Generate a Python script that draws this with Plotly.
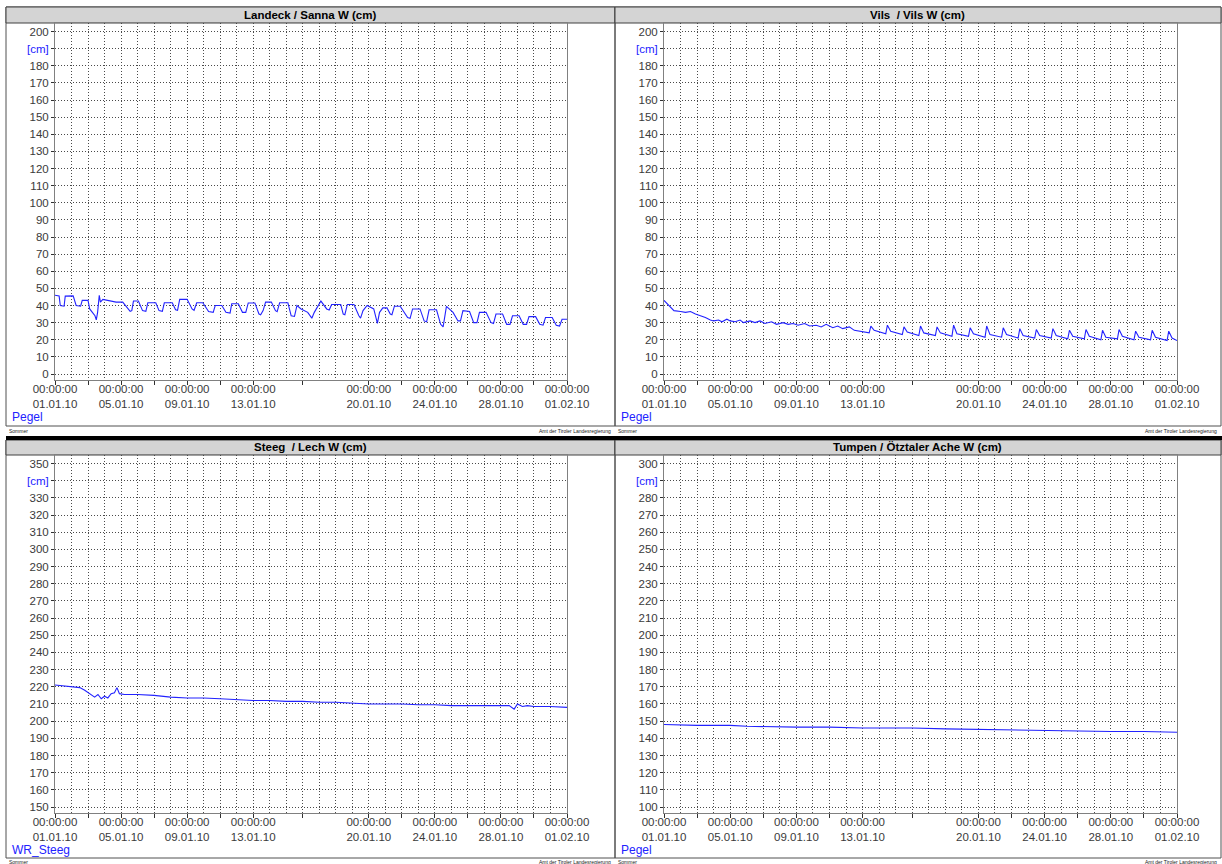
import plotly.graph_objects as go

# ---------------------------------------------------------------------------
# Gauge readings, January 2010 (time in days since 01.01.10 00:00, level in cm)
# ---------------------------------------------------------------------------
sanna_t = [0.00, 0.25, 0.32, 0.55, 0.62, 1.10, 1.28, 1.55, 1.65, 2.00, 2.10, 2.30, 2.42, 2.50,
           2.58, 2.68, 2.75, 2.90, 3.30, 3.70, 4.10, 4.40, 4.55, 4.65, 4.75, 5.05, 5.30, 5.50,
           5.62, 6.10, 6.30, 6.50, 6.62, 7.10, 7.30, 7.42, 7.55, 8.00, 8.30, 8.42, 8.58, 8.95,
           9.30, 9.58, 9.70, 10.10, 10.35, 10.60, 10.70, 11.10, 11.35, 11.55, 11.70, 12.10,
           12.35, 12.45, 12.60, 12.75, 13.10, 13.35, 13.45, 13.60, 14.10, 14.30, 14.50, 14.65,
           14.90, 15.30, 15.55, 15.70, 16.10, 16.45, 16.60, 16.75, 17.30, 17.45, 17.55, 17.70,
           18.10, 18.40, 18.50, 18.65, 18.90, 19.30, 19.45, 19.52, 19.65, 19.85, 20.10, 20.30,
           20.40, 20.55, 20.90, 21.35, 21.50, 21.65, 22.10, 22.35, 22.50, 22.65, 23.10, 23.35,
           23.50, 23.60, 23.70, 24.10, 24.40, 24.55, 24.70, 25.10, 25.35, 25.55, 25.70, 26.10,
           26.40, 26.55, 26.70, 27.10, 27.35, 27.55, 27.70, 28.10, 28.35, 28.55, 28.70, 29.10,
           29.35, 29.55, 29.70, 30.10, 30.35, 30.55, 30.70, 31.00]
sanna_w = [46.0, 45.5, 40.0, 39.6, 45.5, 45.6, 40.0, 39.6, 43.0, 43.0, 38.0, 35.5, 34.0, 31.6,
           36.0, 46.0, 42.0, 43.6, 43.0, 42.0, 42.0, 38.0, 36.6, 37.0, 42.6, 42.6, 37.0, 36.6,
           41.6, 41.6, 37.0, 36.6, 41.6, 41.6, 37.5, 37.2, 43.6, 43.6, 38.0, 37.2, 41.6, 41.6,
           36.5, 36.0, 40.0, 40.0, 36.0, 35.6, 41.0, 41.0, 36.0, 36.0, 41.5, 41.5,
           35.0, 34.6, 37.0, 42.0, 42.0, 37.0, 36.4, 41.6, 41.6, 34.0, 33.6, 40.0,
           38.0, 36.0, 32.6, 36.0, 42.6, 38.0, 37.4, 40.6, 40.6, 35.0, 34.6, 40.6,
           40.6, 34.0, 32.6, 37.0, 40.0, 38.0, 31.0, 29.6, 36.0, 38.6, 38.6, 35.0,
           34.6, 39.6, 39.6, 33.0, 32.5, 38.0, 38.0, 31.0, 30.5, 37.5, 37.5, 29.0,
           27.5, 33.0, 39.5, 36.0, 31.0, 31.0, 37.0, 36.5, 30.0, 30.0, 36.0, 36.0,
           30.0, 29.5, 35.0, 35.0, 29.0, 29.0, 34.0, 34.0, 29.0, 29.0, 33.5, 33.5,
           29.0, 28.5, 33.0, 33.0, 28.5, 28.0, 32.0, 32.0]

vils_t = [0.0, 0.2, 0.45, 0.6, 1.0, 1.3, 1.6, 1.9, 2.2, 2.5, 2.8, 3.0, 3.3, 3.5, 3.8, 4.0, 4.3,
          4.6, 4.8, 5.2, 5.5, 5.8, 6.1, 6.5, 6.8, 7.2, 7.5, 7.8, 8.1, 8.5, 8.8, 9.2, 9.5, 9.8,
          10.2, 10.5, 10.8, 11.2, 11.5,
          12.40, 12.50, 12.70, 13.40, 13.50, 13.70, 14.40, 14.50, 14.70, 15.40, 15.50, 15.70,
          16.40, 16.50, 16.70, 17.40, 17.50, 17.70, 18.40, 18.50, 18.70, 19.40, 19.50, 19.70,
          20.40, 20.50, 20.70, 21.40, 21.50, 21.70, 22.40, 22.50, 22.70, 23.40, 23.50, 23.70,
          24.40, 24.50, 24.70, 25.40, 25.50, 25.70, 26.40, 26.50, 26.70, 27.40, 27.50, 27.70,
          28.40, 28.50, 28.70, 29.40, 29.50, 29.70, 30.40, 30.50, 30.70, 31.00]
vils_w = [43.0, 41.0, 38.0, 37.0, 36.5, 36.0, 36.5, 35.0, 34.0, 33.0, 31.5, 31.0, 31.5, 30.5,
          32.0, 31.0, 30.5, 31.5, 30.0, 31.0, 30.0, 31.0, 29.5, 30.5, 29.0, 30.0, 29.0, 29.5,
          28.5, 29.5, 28.0, 28.5, 27.5, 29.0, 27.0, 28.0, 26.5, 27.5, 25.5,
          24.0, 28.0, 25.5, 23.5, 28.5, 25.0, 23.0, 27.5, 24.5, 22.5, 28.0, 24.0,
          22.5, 27.5, 24.0, 22.0, 28.5, 23.5, 22.0, 27.0, 23.5, 21.5, 28.0, 23.0,
          21.5, 27.0, 23.0, 21.0, 26.5, 22.5, 21.0, 26.0, 22.5, 21.0, 26.5, 22.5,
          20.5, 25.5, 22.0, 20.5, 26.0, 22.0, 20.0, 25.5, 21.5, 20.5, 26.0, 22.0,
          20.0, 25.0, 21.5, 20.0, 25.5, 21.5, 19.5, 25.0, 21.0, 19.5]

lech_t = [0.0, 0.5, 1.0, 1.5, 1.8, 2.0, 2.2, 2.4, 2.6, 2.8, 3.0, 3.2, 3.4, 3.6, 3.75, 3.9, 4.2,
          5.0, 6.0, 7.0, 8.0, 9.0, 10.0, 11.0, 12.0, 13.0, 14.0, 15.0, 16.0, 17.0, 18.0, 19.0,
          20.0, 21.0, 22.0, 23.0, 24.0, 25.0, 26.0, 27.0, 27.5, 27.8, 28.0, 28.3, 28.6, 29.0,
          30.0, 31.0]
lech_w = [221.0, 220.5, 220.0, 219.5, 218.0, 216.5, 215.0, 214.0, 215.5, 213.0, 214.5, 213.5,
          216.0, 216.5, 219.5, 216.0, 215.5, 215.5, 215.0, 214.0, 213.5, 213.5, 213.0, 212.5,
          212.0, 212.0, 211.5, 211.5, 211.0, 211.0, 210.5, 210.0, 210.0, 210.0, 209.5, 209.5,
          209.0, 209.0, 209.0, 209.0, 209.0, 207.0, 210.0, 208.5, 209.0, 208.5, 208.5, 208.0]

oetz_t = [0.0, 2.0, 4.0, 5.0, 8.0, 10.0, 12.0, 15.0, 17.0, 20.0, 22.0, 24.0, 27.0, 29.0, 31.0]
oetz_w = [148.0, 147.5, 147.5, 147.0, 146.5, 146.5, 146.0, 146.0, 145.5, 145.0, 145.0, 144.5,
          144.0, 144.0, 143.5]

# x-axis labels (day offsets and their date/time text)
label_days = [0, 4, 8, 12, 19, 23, 27, 31]
label_dates = ["01.01.10", "05.01.10", "09.01.10", "13.01.10",
               "20.01.10", "24.01.10", "28.01.10", "01.02.10"]
mid_days = [2, 6, 10, 15, 21, 25, 29]

# ---------------------------------------------------------------------------
W, H = 1222, 864
FONT = "Liberation Sans, Arial, sans-serif"
BLUE = "#2222ff"
TXT = "#3a3a3a"
GRID = "#4a4a4a"


def fx(p):
    return p / W


def fy(p):
    return 1 - p / H


panels = [
    dict(title="Landeck / Sanna W (cm)", t=sanna_t, w=sanna_w, lo=0, hi=200, tag="Pegel",
         col=0, row=0),
    dict(title="Vils  / Vils W (cm)", t=vils_t, w=vils_w, lo=0, hi=200, tag="Pegel",
         col=1, row=0),
    dict(title="Steeg  / Lech W (cm)", t=lech_t, w=lech_w, lo=150, hi=350, tag="WR_Steeg",
         col=0, row=1),
    dict(title="Tumpen / Ötztaler Ache W (cm)", t=oetz_t, w=oetz_w, lo=100, hi=300, tag="Pegel",
         col=1, row=1),
]

# pixel frame of each column / row
cols = [dict(left=6, right=615, p0=55, p1=567), dict(left=615, right=1221, p0=664, p1=1177)]
rows = [dict(band0=7, band1=23, p1=380, tag=417, bottom=426, foot=431),
        dict(band0=440, band1=455, p1=813, tag=850, bottom=858, foot=862)]

fig = go.Figure()
shapes = []
annotations = []
layout_axes = {}

for i, pn in enumerate(panels):
    c = cols[pn["col"]]
    r = rows[pn["row"]]
    n = "" if i == 0 else str(i + 1)
    xa, ya = "x" + n, "y" + n

    fig.add_trace(go.Scatter(x=pn["t"], y=pn["w"], mode="lines", xaxis=xa, yaxis=ya,
                             line=dict(color=BLUE, width=1.1), showlegend=False,
                             hoverinfo="skip"))

    # vertical extent: plot area with a little padding around the outer ticks
    top, bot = r["band1"], r["p1"]
    span_px = (bot - top) - 14.5
    per_px = (pn["hi"] - pn["lo"]) / span_px
    yr = [pn["lo"] - 6 * per_px, pn["hi"] + 8.5 * per_px]

    yvals = list(range(pn["lo"], pn["hi"] + 1, 10))
    ytext = [str(v) for v in yvals]
    ytext[-2] = "<span style='color:%s'>[cm]</span>" % BLUE

    xvals = label_days + mid_days
    xtext = ["00:00:00<br>" + d for d in label_dates] + [""] * len(mid_days)

    layout_axes["xaxis" + n] = dict(
        domain=[fx(c["p0"]), fx(c["p1"])], anchor=ya, range=[0, 31],
        tickmode="array", tickvals=xvals, ticktext=xtext,
        ticks="outside", ticklen=4, tickcolor="#303030", tickwidth=1,
        ticklabelstandoff=-6,
        showgrid=True, gridcolor=GRID, griddash="1px,2px", gridwidth=1,
        minor=dict(tick0=0, dtick=1, showgrid=True, gridcolor=GRID,
                   griddash="1px,2px", gridwidth=1),
        showline=True, linecolor="#808080", linewidth=1, mirror=True,
        zeroline=False, fixedrange=True, automargin=False,
        tickfont=dict(family=FONT, size=11.5, color=TXT))
    layout_axes["yaxis" + n] = dict(
        domain=[fy(bot), fy(top)], anchor=xa, range=yr,
        tickmode="array", tickvals=yvals, ticktext=ytext,
        ticks="outside", ticklen=3, tickcolor="#303030",
        showgrid=True, gridcolor=GRID, griddash="1px,2px", gridwidth=1,
        showline=True, linecolor="#808080", linewidth=1, mirror=True,
        zeroline=False, fixedrange=True, automargin=False,
        tickfont=dict(family=FONT, size=11.5, color=TXT))

    # panel frame and title band
    shapes.append(dict(type="rect", xref="paper", yref="paper",
                       x0=fx(c["left"]), x1=fx(c["right"]),
                       y0=fy(r["bottom"]), y1=fy(r["band0"]),
                       line=dict(color="#505050", width=1), fillcolor="rgba(0,0,0,0)",
                       layer="below"))
    shapes.append(dict(type="rect", xref="paper", yref="paper",
                       x0=fx(c["left"]), x1=fx(c["right"]),
                       y0=fy(r["band1"]), y1=fy(r["band0"]),
                       line=dict(color="#404040", width=1), fillcolor="#d4d4d4",
                       layer="below"))

    annotations.append(dict(text="<b>%s</b>" % pn["title"], xref="paper", yref="paper",
                            x=fx((c["left"] + c["right"]) / 2),
                            y=fy((r["band0"] + r["band1"]) / 2),
                            xanchor="center", yanchor="middle", showarrow=False,
                            font=dict(family=FONT, size=11.5, color="#000000")))
    annotations.append(dict(text=pn["tag"], xref="paper", yref="paper",
                            x=fx(c["left"] + 4), y=fy(r["tag"]),
                            xanchor="left", yanchor="middle", showarrow=False,
                            font=dict(family=FONT, size=12, color=BLUE)))
    annotations.append(dict(text="Sommer", xref="paper", yref="paper",
                            x=fx(c["left"] + 1), y=fy(r["foot"]),
                            xanchor="left", yanchor="middle", showarrow=False,
                            font=dict(family=FONT, size=5, color="#202020")))
    annotations.append(dict(text="Amt der Tiroler Landesregierung", xref="paper", yref="paper",
                            x=fx(c["right"] - 2), y=fy(r["foot"]),
                            xanchor="right", yanchor="middle", showarrow=False,
                            font=dict(family=FONT, size=5, color="#202020")))

# black separator between the two rows
shapes.append(dict(type="rect", xref="paper", yref="paper", x0=fx(6), x1=1,
                   y0=fy(440), y1=fy(436), line=dict(width=0), fillcolor="#000000",
                   layer="below"))

fig.update_layout(
    width=W, height=H, margin=dict(l=0, r=0, t=0, b=0, pad=0, autoexpand=False),
    paper_bgcolor="#ffffff", plot_bgcolor="#ffffff",
    shapes=shapes, annotations=annotations, showlegend=False,
    font=dict(family=FONT, size=11.5, color=TXT),
    **layout_axes)

fig.write_html("out.html", config=dict(displayModeBar=False))
